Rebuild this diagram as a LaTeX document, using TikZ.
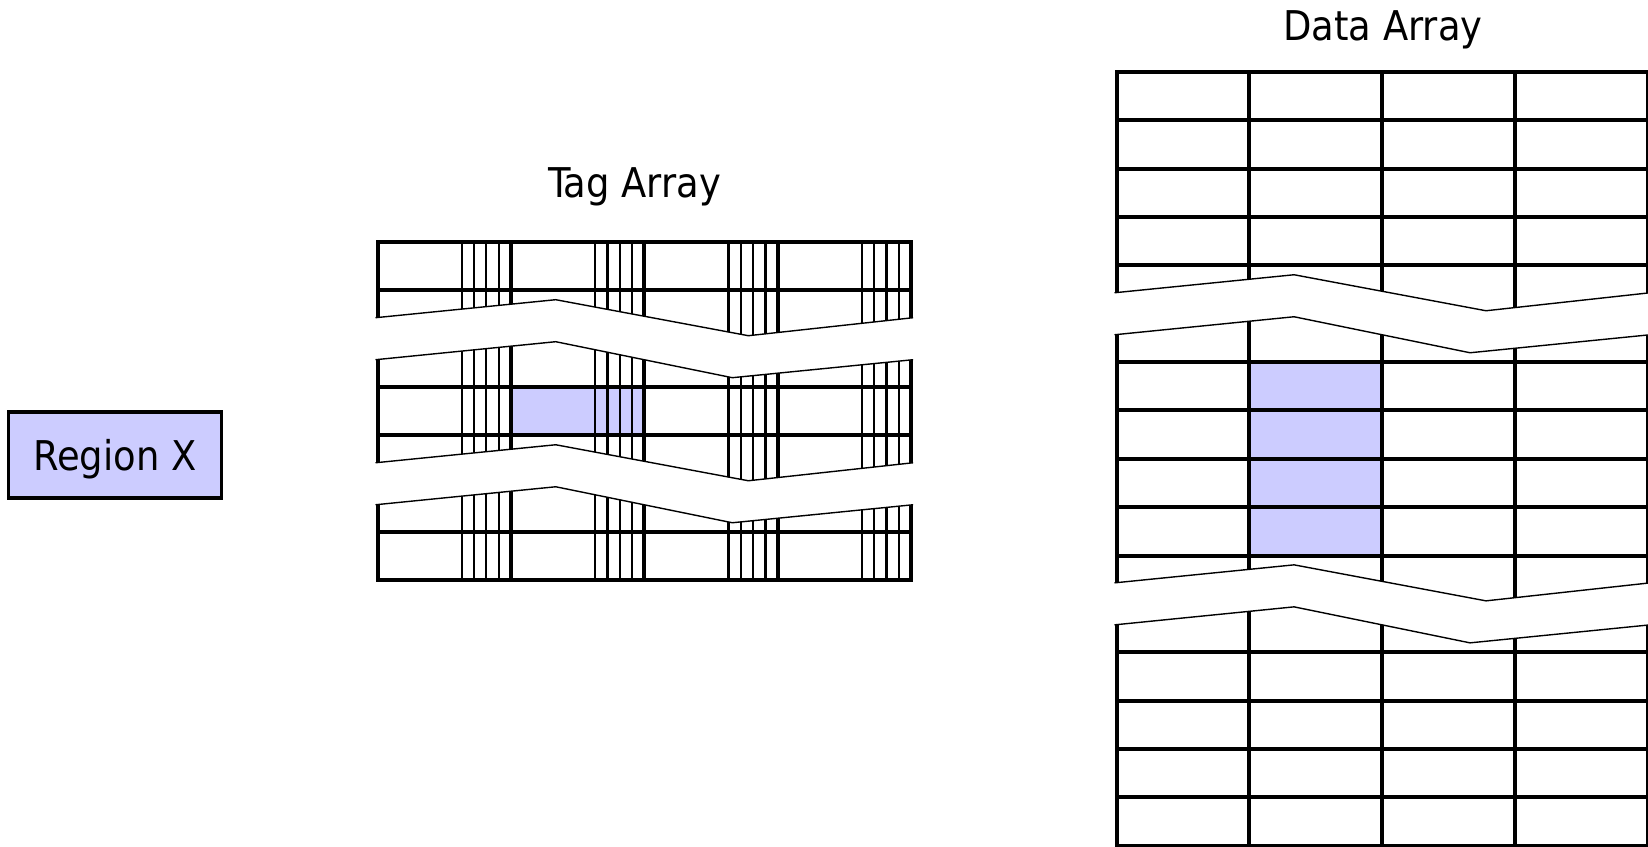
\documentclass[tikz,border=0pt]{standalone}
\usepackage{fontspec}
\setmainfont{DejaVu Sans Condensed}

% white zig-zag strip that cuts an array: left x, width, hidden row line
\newcommand{\cutband}[3]{%
  \fill[white] ({#1-2.5},{#3-21}) -- ({#1+0.334*#2},{#3-39}) -- ({#1+0.695*#2},{#3-3}) -- ({#1+#2+2.5},{#3-21})
    -- ({#1+#2+2.5},{#3+21}) -- ({#1+0.665*#2},{#3+39}) -- ({#1+0.334*#2},{#3+3}) -- ({#1-2.5},{#3+21}) -- cycle;
  \draw[cutline] ({#1-2},{#3-21}) -- ({#1+0.334*#2},{#3-39}) -- ({#1+0.695*#2},{#3-3}) -- ({#1+#2+2},{#3-21});
  \draw[cutline] ({#1-2},{#3+21}) -- ({#1+0.334*#2},{#3+3}) -- ({#1+0.665*#2},{#3+39}) -- ({#1+#2+2},{#3+21});
}

\begin{document}
\begin{tikzpicture}[x=0.5pt,y=-0.5pt]
  \tikzset{
    gridline/.style={line width=2pt,line cap=rect},
    fineline/.style={line width=1.1pt},
    cutline/.style={line width=0.7pt,line join=miter},
    arraytitle/.style={font=\fontsize{20.5}{24}\selectfont,inner sep=0pt,anchor=base},
    regionbox/.style={draw,line width=1.7pt,fill=lavender,minimum width=106.5pt,minimum height=43pt,
      inner sep=0pt,text depth=0pt,font=\fontsize{20.5}{24}\selectfont},
  }
  \definecolor{lavender}{RGB}{204,204,255};
  \useasboundingbox (0,0) rectangle (1648,846);

  % tag array, 4 ways x 7 sets
  \fill[lavender] (510.9,387.05) rectangle (644.3,435.4);
  \foreach \c in {0,...,3} {
    \foreach \k in {1,...,4}
      \draw[fineline] ({377.5+(\c+1)*133.4-\k*12.3},242) -- ++(0,338.45);
  }
  \foreach \r in {0,...,7}
    \draw[gridline] (377.5,{242+\r*48.35}) -- ++(533.6,0);
  \foreach \c in {0,...,4}
    \draw[gridline] ({377.5+\c*133.4},242) -- ++(0,338.45);
  \cutband{377.5}{533.6}{338.7}
  \cutband{377.5}{533.6}{483.75}

  % data array, 4 ways x 16 rows
  \fill[lavender] (1249.4,362.1) rectangle (1382.3,555.5);
  \foreach \r in {0,...,16}
    \draw[gridline] (1116.5,{72+\r*48.35}) -- ++(531.6,0);
  \foreach \c in {0,...,4}
    \draw[gridline] ({1116.5+\c*132.9},72) -- ++(0,773.6);
  \cutband{1116.5}{531.6}{313.75}
  \cutband{1116.5}{531.6}{603.85}

  \node[arraytitle] (tagtitle) at (634.5,197) {Tag Array};
  \node[arraytitle] (datatitle) at (1383,40) {Data Array};
  \node[regionbox] (regionx) at (115,455) {Region X};
\end{tikzpicture}
\end{document}
